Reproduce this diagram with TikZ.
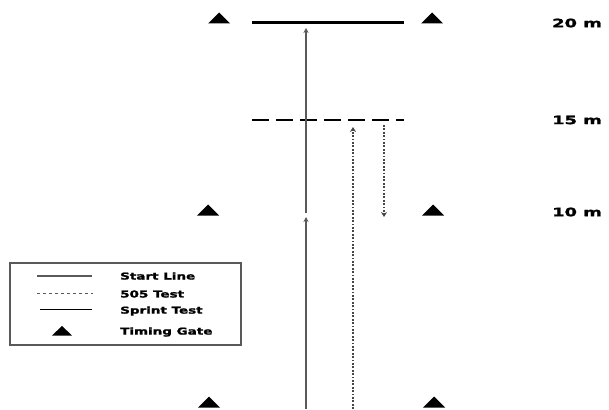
\documentclass[tikz,border=0pt]{standalone}
\usepackage{graphicx}
\usepackage{fontspec}
\setmainfont{DejaVu Sans}
\newfontfamily\heavyfont[FakeBold=1.5]{DejaVu Sans Bold}
\usetikzlibrary{arrows.meta}

% wide heavy lettering used for all labels
\newcommand\widelabel[3]{\scalebox{#2}[1]{\fontsize{#1}{#1}\selectfont\heavyfont #3}}

\tikzset{
  gate/.pic={\fill[black] (-11,5) -- (0,-6) -- (11,5) -- cycle;},
  smallgate/.pic={\fill[black] (-10,4.5) -- (0,-5) -- (10,4.5) -- cycle;},
  startline/.style={line width=3pt, black},
  turnline/.style={line width=2.2pt, black, dash pattern=on 17pt off 7pt},
  sprint/.style={line width=2.4pt, gray!70!black, -{Stealth[length=5pt,width=5pt]}},
  shuttle/.style={line width=2.4pt, gray!55!black, dash pattern=on 1.8pt off 1.6pt,
                  -{Stealth[length=5pt,width=6pt]}},
  distlabel/.style={anchor=west, inner sep=0pt},
  legendtext/.style={anchor=west, inner sep=0pt},
  legendbox/.style={draw=gray!70!black, line width=1.2pt}
}

\begin{document}
\begin{tikzpicture}[x=1pt,y=-1pt]
\useasboundingbox (0,0) rectangle (609,409);

% timing gates
\pic at (219,18.5) {gate};
\pic at (432,18.5) {gate};
\pic at (208,210.5) {gate};
\pic at (433,210.5) {gate};
\pic at (209,402.5) {gate};
\pic at (434,402.5) {gate};

% 20 m start line and 15 m turning line
\coordinate (s20a) at (252,23);
\coordinate (s20b) at (404,23);
\draw[startline] (s20a) -- (s20b);
\coordinate (t15a) at (252,120);
\coordinate (t15b) at (404,120);
\draw[turnline] (t15a) -- (t15b);

% distance labels
\node[distlabel] (m20) at (552,23) {\widelabel{11.5}{1.55}{20 m}};
\node[distlabel] (m15) at (552,120) {\widelabel{11.5}{1.55}{15 m}};
\node[distlabel] (m10) at (552,212) {\widelabel{11.5}{1.55}{10 m}};

% sprint test: two split segments
\coordinate (spA) at (306,409);
\coordinate (spB) at (306,217);
\coordinate (spC) at (306,213);
\coordinate (spD) at (306,28);
\draw[sprint] (spA) -- (spB);
\draw[sprint] (spC) -- (spD);

% 505 test: run in, turn at 15 m, run back
\coordinate (raA) at (353,409);
\coordinate (raB) at (353,127);
\coordinate (rbA) at (384,125);
\coordinate (rbB) at (384,217);
\draw[shuttle] (raA) -- (raB);
\draw[shuttle] (rbA) -- (rbB);

% legend
\draw[legendbox] (10,263) rectangle (241,345);
\coordinate (l1a) at (37,276);  \coordinate (l1b) at (92,276);
\coordinate (l2a) at (37,293);  \coordinate (l2b) at (93,293);
\coordinate (l3a) at (40,309);  \coordinate (l3b) at (92,309);
\draw[line width=2pt, gray!70!black] (l1a) -- (l1b);
\draw[line width=0.8pt, gray!70!black, dash pattern=on 3pt off 3pt] (l2a) -- (l2b);
\draw[line width=0.9pt, black] (l3a) -- (l3b);
\pic at (62,331) {smallgate};
\node[legendtext] (lt1) at (120,276) {\widelabel{9.5}{1.42}{Start Line}};
\node[legendtext] (lt2) at (120,294) {\widelabel{9.5}{1.42}{505 Test}};
\node[legendtext] (lt3) at (120,311) {\widelabel{9.5}{1.42}{Sprint Test}};
\node[legendtext] (lt4) at (120,332) {\widelabel{9.5}{1.42}{Timing Gate}};
\end{tikzpicture}
\end{document}
